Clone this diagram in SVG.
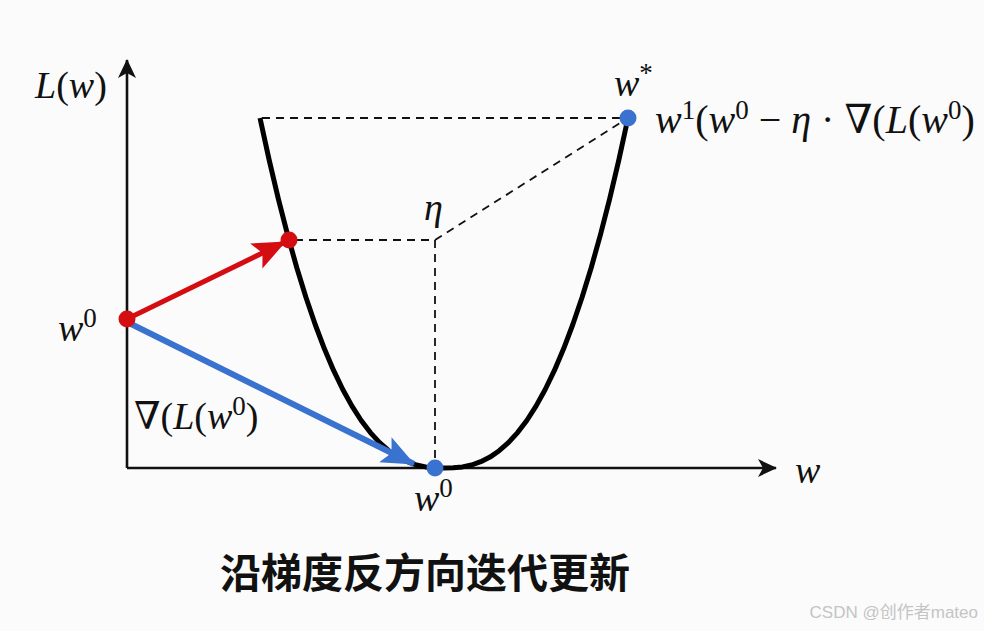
<svg xmlns="http://www.w3.org/2000/svg" width="984" height="631" viewBox="0 0 984 631">
<style>
.m{font-family:"Liberation Serif","DejaVu Serif",serif;font-style:italic;font-size:38px;fill:#111}
.u{font-style:normal}
.sup{font-size:27px;font-style:normal}
.d{fill:none;stroke:#111;stroke-width:1.8;stroke-dasharray:8 6}
.ax{stroke:#111;stroke-width:2.6;fill:none}
</style>
<defs>
<marker id="ak" markerUnits="userSpaceOnUse" markerWidth="22" markerHeight="20" refX="18" refY="9" orient="auto"><path d="M0,0 L19,9 L0,18 L5,9 Z" fill="#111"/></marker>
<marker id="ar" markerUnits="userSpaceOnUse" markerWidth="36" markerHeight="30" refX="32" refY="14" orient="auto"><path d="M0,0 L33,14 L0,28 L7,14 Z" fill="#d40d12"/></marker>
<marker id="ab" markerUnits="userSpaceOnUse" markerWidth="36" markerHeight="30" refX="32" refY="14" orient="auto"><path d="M0,0 L33,14 L0,28 L7,14 Z" fill="#3a72cf"/></marker>
</defs>
<rect width="984" height="631" fill="#fbfbfb"/>
<g id="axes">
<line class="ax" x1="127" y1="468" x2="127" y2="60" marker-end="url(#ak)"/>
<line class="ax" x1="127" y1="468" x2="776" y2="468" marker-end="url(#ak)"/>
</g>
<g id="curve">
<path d="M260,118 L269.2,160.1 L278.4,199.1 L287.6,234.9 L296.8,267.7 L306,297.5 L315.2,324.5 L324.4,348.8 L333.6,370.4 L342.8,389.5 L352,406.1 L361.2,420.5 L370.4,432.6 L379.6,442.6 L388.8,450.7 L398,457.1 L407.2,461.7 L416.4,465 L425.6,466.9 L434.8,467.8 L444,468 L453.2,467.8 L462.4,466.9 L471.6,465 L480.8,461.7 L490,457.1 L499.2,450.7 L508.4,442.6 L517.6,432.6 L526.8,420.5 L536,406.1 L545.2,389.5 L554.4,370.4 L563.6,348.8 L572.8,324.5 L582,297.5 L591.2,267.7 L600.4,234.9 L609.6,199.1 L618.8,160.1 L628,118" fill="none" stroke="#000" stroke-width="5" stroke-linejoin="round"/>
</g>
<g id="connectors">
<line class="d" x1="262" y1="118" x2="628" y2="118"/>
<line class="d" x1="295" y1="240" x2="435" y2="240"/>
<line class="d" x1="435" y1="240" x2="435" y2="466"/>
<line class="d" x1="435" y1="240" x2="628" y2="118"/>
<line x1="127" y1="319" x2="285" y2="242" stroke="#d40d12" stroke-width="5" marker-end="url(#ar)"/>
<line x1="127" y1="322" x2="414" y2="464" stroke="#3a72cf" stroke-width="6" marker-end="url(#ab)"/>
</g>
<g id="dots">
<circle cx="289" cy="240" r="8.5" fill="#d40d12"/>
<circle cx="127" cy="319" r="8.5" fill="#d40d12"/>
<circle cx="435" cy="468" r="8.5" fill="#3a72cf"/>
<circle cx="628" cy="118" r="8.5" fill="#3a72cf"/>
</g>
<g id="labels">
<text class="m" x="35" y="98">L<tspan class="u">(</tspan>w<tspan class="u">)</tspan></text>
<text class="m" x="614" y="96">w<tspan class="sup" dy="-14">*</tspan></text>
<text class="m" x="655" y="133" style="font-size:40px">w<tspan class="sup" dy="-14">1</tspan><tspan class="u" dy="14">(</tspan>w<tspan class="sup" dy="-14">0</tspan><tspan class="u" dy="14"> − </tspan>η<tspan class="u"> · ∇(</tspan>L<tspan class="u">(</tspan>w<tspan class="sup" dy="-14">0</tspan><tspan class="u" dy="14">)</tspan></text>
<text class="m" x="424" y="220">η</text>
<text class="m" x="58" y="341">w<tspan class="sup" dy="-14">0</tspan></text>
<text class="m" x="134" y="429"><tspan class="u">∇(</tspan>L<tspan class="u">(</tspan>w<tspan class="sup" dy="-14">0</tspan><tspan class="u" dy="14">)</tspan></text>
<text class="m" x="414" y="511">w<tspan class="sup" dy="-14">0</tspan></text>
<text class="m" x="795" y="483">w</text>
</g>
<g id="title">
<text x="425" y="588" text-anchor="middle" font-family="Noto Sans CJK SC, sans-serif" font-weight="bold" font-size="41" fill="#111">沿梯度反方向迭代更新</text>
</g>
<text x="978" y="618" text-anchor="end" font-family="Liberation Sans, Noto Sans CJK SC, sans-serif" font-size="17" fill="#c4c4c4">CSDN @创作者mateo</text>
</svg>
